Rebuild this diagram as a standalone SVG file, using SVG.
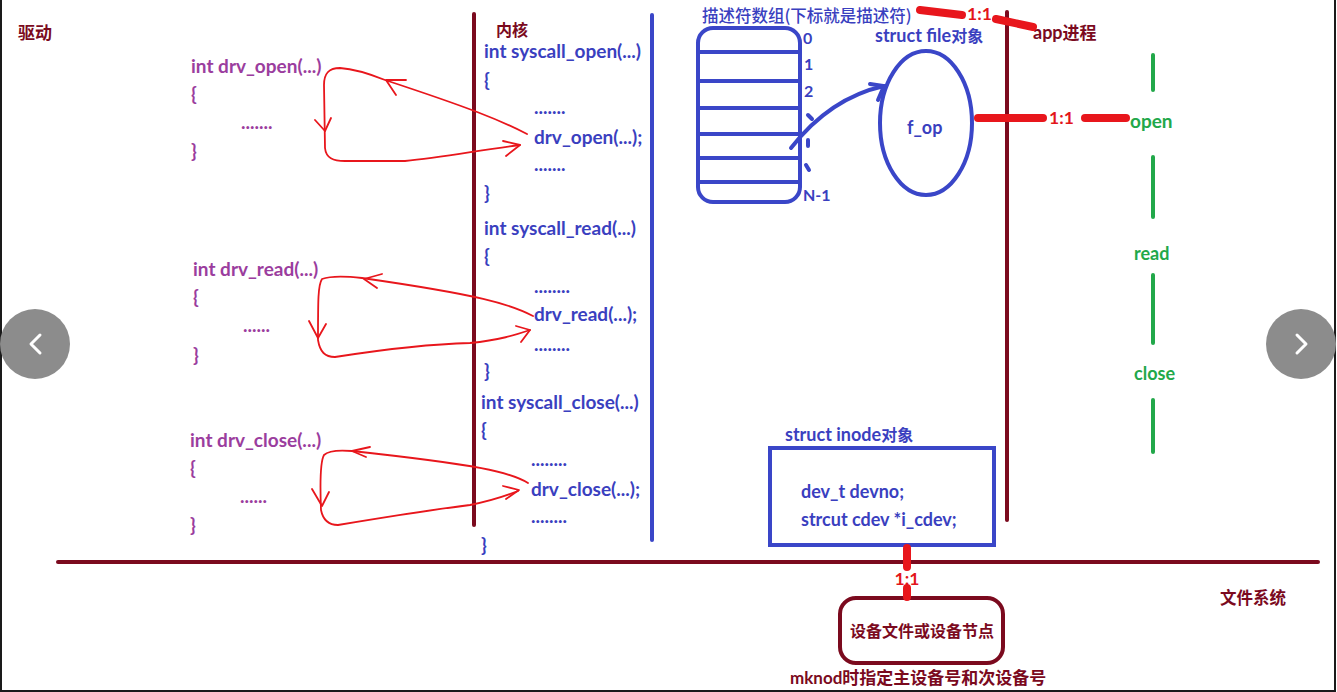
<svg xmlns="http://www.w3.org/2000/svg" width="1337" height="692" viewBox="0 0 1337 692">
<style>
text{font-family:Lato,"Noto Sans CJK SC",sans-serif;font-weight:bold;font-size:16px}
.code{font-size:19px}
.s18{font-size:18px}
.cjk{font-family:"Noto Sans CJK SC",sans-serif}
.b{fill:#3a3fbf}
.p{fill:#9b3d9e}
.dr{fill:#7b0a1e}
.g{fill:#22a84a}
.r{fill:#e3151b}
.red{fill:none;stroke:#e8161c;stroke-width:1.8;stroke-linecap:round;stroke-linejoin:round}
.thick{fill:none;stroke:#e8161c;stroke-width:8;stroke-linecap:round}
.bl{fill:none;stroke:#3a46c8;stroke-width:4;stroke-linecap:round}
.drl{fill:none;stroke:#7b0a1e;stroke-width:4;stroke-linecap:round}
.gl{fill:none;stroke:#22a84a;stroke-width:4;stroke-linecap:round}
</style>
<rect width="1337" height="692" fill="#fff"/>
<g id="frame" fill="none" stroke="#1a1a1a" stroke-width="2">
<path d="M1,0 V691 H1335 V0"/>
</g>
<g id="labels">
<text class="dr cjk" x="18" y="39" style="font-size:17px">驱动</text>
<text class="dr cjk" x="496" y="36">内核</text>
<text class="dr cjk" x="1220" y="604" style="font-size:16.5px">文件系统</text>
</g>
<g id="driver-open">
<text class="p code" x="191" y="73">int drv_open(...)</text>
<text class="p code" x="191" y="101">{</text>
<text class="p code" x="241" y="129">.......</text>
<text class="p code" x="191" y="158">}</text>
</g>
<g id="driver-read">
<text class="p code" x="193" y="276">int drv_read(...)</text>
<text class="p code" x="193" y="304">{</text>
<text class="p code" x="243" y="332">......</text>
<text class="p code" x="193" y="362">}</text>
</g>
<g id="driver-close">
<text class="p code" x="190" y="447">int drv_close(...)</text>
<text class="p code" x="190" y="475">{</text>
<text class="p code" x="240" y="503">......</text>
<text class="p code" x="190" y="532">}</text>
</g>
<g id="kernel">
<text class="b code" x="484" y="58">int syscall_open(...)</text>
<text class="b code" x="484" y="87">{</text>
<text class="b code" x="534" y="114">.......</text>
<text class="b code" x="534" y="144">drv_open(...);</text>
<text class="b code" x="534" y="171">.......</text>
<text class="b code" x="484" y="200">}</text>
<text class="b code" x="484" y="235">int syscall_read(...)</text>
<text class="b code" x="484" y="263">{</text>
<text class="b code" x="534" y="293">........</text>
<text class="b code" x="534" y="321">drv_read(...);</text>
<text class="b code" x="534" y="351">........</text>
<text class="b code" x="484" y="378">}</text>
<text class="b code" x="481" y="409">int syscall_close(...)</text>
<text class="b code" x="481" y="437">{</text>
<text class="b code" x="531" y="466">........</text>
<text class="b code" x="531" y="496">drv_close(...);</text>
<text class="b code" x="531" y="523">........</text>
<text class="b code" x="481" y="552">}</text>
</g>
<g id="fd-array">
<text class="b cjk" x="702" y="22" style="font-size:16.5px;font-weight:500">描述符数组(下标就是描述符)</text>
<rect x="698" y="28" width="102" height="174" rx="15" class="bl"/>
<path class="bl" d="M698,52 H800 M698,81 H800 M698,108 H800 M698,134 H800 M698,158 H800 M698,182 H800" stroke-width="3.5"/>
<text class="b" x="803" y="44">0</text>
<text class="b" x="804" y="70">1</text>
<text class="b" x="804" y="97">2</text>
<path class="bl" d="M808,115 L812,119 M808,140 L808,146 M806,165 L809,170" stroke-width="3"/>
<text class="b" x="803" y="201">N-1</text>
</g>
<g id="file-object">
<text class="b s18" x="875" y="42">struct file<tspan class="cjk" style="font-size:16px">对象</tspan></text>
<ellipse cx="926" cy="123" rx="46" ry="72" class="bl"/>
<text class="b s18" x="907" y="134">f_op</text>
</g>
<g id="inode">
<text class="b s18" x="785" y="441">struct inode<tspan class="cjk" style="font-size:16px">对象</tspan></text>
<rect x="770" y="448" width="224" height="97" class="bl" stroke-linecap="butt"/>
<text class="b s18" x="801" y="498">dev_t devno;</text>
<text class="b s18" x="801" y="526">strcut cdev *i_cdev;</text>
</g>
<g id="device-node">
<rect x="840" y="598" width="163" height="65" rx="16" fill="none" stroke="#7b0a1e" stroke-width="4"/>
<text class="dr cjk" x="922" y="637" text-anchor="middle">设备文件或设备节点</text>
<text class="dr" x="790" y="684" style="font-size:17px">mknod<tspan class="cjk">时指定主设备号和次设备号</tspan></text>
</g>
<g id="app">
<text class="dr s18" x="1033" y="39">app<tspan class="cjk" style="font-size:17px">进程</tspan></text>
<text class="g" x="1130" y="128" style="font-size:19px">open</text>
<text class="g s18" x="1134" y="260">read</text>
<text class="g s18" x="1134" y="380">close</text>
</g>
<g id="nav-buttons">
<circle cx="35" cy="344" r="35" fill="#8c8c8c"/>
<path d="M40,335 L31,344 L40,353" fill="none" stroke="#fff" stroke-width="3" stroke-linecap="round" stroke-linejoin="round"/>
<circle cx="1301" cy="344" r="35" fill="#8c8c8c"/>
<path d="M1297,335 L1306,344 L1297,353" fill="none" stroke="#fff" stroke-width="3" stroke-linecap="round" stroke-linejoin="round"/>
</g>
<g id="connectors">
<path class="drl" d="M474,14 V525"/>
<path class="bl" d="M652,15 V540"/>
<path class="drl" d="M1007,12 V520"/>
<path class="drl" d="M58,562 H1318"/>
<path class="gl" d="M1153,55 V90 M1153,157 V217 M1153,275 V343 M1153,400 V452"/>
<path class="thick" d="M920,10 L962,15"/>
<text class="r" x="967" y="20" style="font-size:17.5px">1:1</text>
<path class="thick" d="M996,19 L1033,27"/>
<path class="thick" d="M978,118 H1043"/>
<text class="r" x="1049" y="124" style="font-size:17.5px">1:1</text>
<path class="thick" d="M1085,118 H1126"/>
<path class="thick" d="M907,548 V567 M907,588 V597" stroke-linecap="butt" stroke-width="7"/>
<text class="r" x="907" y="585" text-anchor="middle" style="font-size:17.5px">1:1</text>
<path class="bl" d="M791,148 Q830,98 884,86" stroke-width="3"/>
<path class="bl" d="M870,84 L884,86 L878,100" stroke-width="3"/>
<path class="red" d="M527,134 C500,120 470,108 385,80 C370,74 355,69 340,68 C328,68 324,74 324,85 L325,148 C326,158 333,161 345,161 L405,161 C440,158 480,150 520,145"/>
<path class="red" d="M406,80 L386,80 L396,95 M315,120 L325,131 L331,118 M503,141 L520,145 L506,156"/>
<path class="red" d="M533,316 C510,304 480,295 362,278 C345,276 330,276 322,279 C318,285 318,300 318,340 C320,352 325,357 335,357 C380,350 430,344 470,343 C500,340 515,335 530,330"/>
<path class="red" d="M382,274 L364,279 L377,288 M309,321 L318,338 L326,324 M516,326 L530,330 L521,342"/>
<path class="red" d="M528,483 C510,472 480,465 352,451 C340,450 328,451 324,455 C320,462 320,485 321,510 C323,520 328,525 338,525 C380,518 430,510 470,505 C495,500 508,495 518,491"/>
<path class="red" d="M370,447 L352,451 L366,457 M312,489 L322,506 L329,492 M503,486 L519,490 L506,499"/>
</g>
</svg>
